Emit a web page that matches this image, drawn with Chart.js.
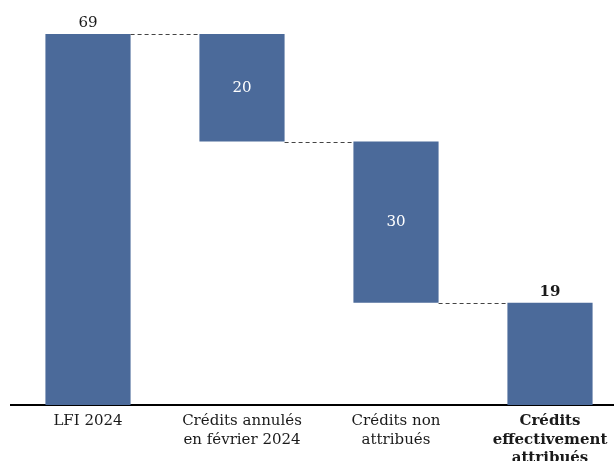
<!DOCTYPE html>
<html>
<head>
<meta charset="utf-8">
<script src="https://cdn.jsdelivr.net/npm/chart.js@4"></script>
<style>
  body { margin: 0; background: #fff; overflow: hidden; width: 614px; height: 461px; }
  #chart { display: block; }
</style>
</head>
<body>
<canvas id="chart" width="627" height="461"></canvas>
<script>
const categories = [
    ['LFI 2024'],
    ['Crédits annulés', 'en février 2024'],
    ['Crédits non', 'attribués'],
    ['Crédits', 'effectivement', 'attribués']
];
const amounts = [69, 20, 30, 19];
const kinds = ['total', 'decrease', 'decrease', 'total'];

// build floating ranges for the waterfall
let running = 0;
const ranges = amounts.map(function (v, i) {
    if (kinds[i] === 'total') {
        running = v;
        return [0, v];
    }
    const r = [running - v, running];
    running = running - v;
    return r;
});

const barColor = '#4b6a9a';
const serif = "'DejaVu Serif', 'Liberation Serif', serif";

const waterfallExtras = {
    id: 'waterfallExtras',
    afterDatasetsDraw(chart) {
        const ctx = chart.ctx;
        const meta = chart.getDatasetMeta(0);
        const y = chart.scales.y;

        // dashed connectors
        ctx.save();
        ctx.strokeStyle = '#444';
        ctx.lineWidth = 1;
        ctx.setLineDash([4, 3]);
        for (let i = 0; i < meta.data.length - 1; i++) {
            const a = meta.data[i];
            const b = meta.data[i + 1];
            const level = kinds[i] === 'total' ? ranges[i][1] : ranges[i][0];
            const py = Math.round(y.getPixelForValue(level)) + 0.5;
            ctx.beginPath();
            ctx.moveTo(a.x + a.width / 2, py);
            ctx.lineTo(b.x - b.width / 2, py);
            ctx.stroke();
        }
        ctx.restore();

        // value labels
        ctx.save();
        ctx.textAlign = 'center';
        meta.data.forEach(function (bar, i) {
            const top = y.getPixelForValue(ranges[i][1]);
            const bottom = y.getPixelForValue(ranges[i][0]);
            if (kinds[i] === 'total') {
                const bold = i === amounts.length - 1;
                ctx.font = (bold ? 'bold ' : '') + '15px ' + serif;
                ctx.fillStyle = '#1a1a1a';
                ctx.textBaseline = 'alphabetic';
                ctx.fillText(String(amounts[i]), bar.x, top - 7);
            } else {
                ctx.font = '15px ' + serif;
                ctx.fillStyle = '#ffffff';
                ctx.textBaseline = 'middle';
                ctx.fillText(String(amounts[i]), bar.x, (top + bottom) / 2);
            }
        });
        ctx.restore();
    }
};

const ctx = document.getElementById('chart').getContext('2d');
const chart = new Chart(ctx, {
    type: 'bar',
    data: {
        labels: categories,
        datasets: [{
            data: ranges,
            backgroundColor: barColor,
            borderWidth: 0,
            barPercentage: 0.553,
            categoryPercentage: 1
        }]
    },
    options: {
        responsive: false,
        animation: false,
        layout: {
            padding: { left: 11, right: 0, top: 34, bottom: 0 }
        },
        plugins: {
            legend: { display: false },
            tooltip: { enabled: false }
        },
        scales: {
            x: {
                grid: { display: false, drawTicks: false },
                border: { color: '#000', width: 2 },
                ticks: {
                    padding: 7,
                    color: '#1a1a1a',
                    maxRotation: 0,
                    autoSkip: false,
                    font: function (c) {
                        const last = c.index === categories.length - 1;
                        return { family: serif, size: 15, weight: last ? 'bold' : 'normal', lineHeight: 1.24 };
                    }
                },
                afterFit(scale) { scale.height = 56; }
            },
            y: {
                display: false,
                min: 0,
                max: 69
            }
        }
    },
    plugins: [waterfallExtras]
});
</script>
</body>
</html>
